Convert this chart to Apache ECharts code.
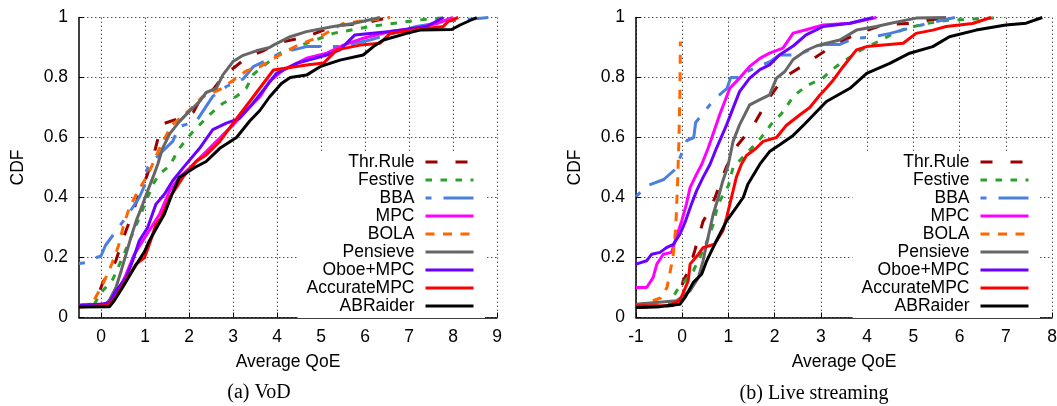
<!DOCTYPE html>
<html>
<head>
<meta charset="utf-8">
<title>CDF of average QoE</title>
<script src="https://cdn.jsdelivr.net/npm/echarts@6.0.0/dist/echarts.min.js"></script>
<style>
  html, body { margin: 0; padding: 0; background: #fff; }
  #chart { width: 1057px; height: 406px; }
</style>
</head>
<body>
<div id="chart"></div>
<script>
// legend order == drawing order (last one on top)
const schemes = ['Thr.Rule', 'Festive', 'BBA', 'MPC', 'BOLA', 'Pensieve', 'Oboe+MPC', 'AccurateMPC', 'ABRaider']

const vodTicks = [0, 1, 2, 3, 4, 5, 6, 7, 8, 9]
const liveTicks = [-1, 0, 1, 2, 3, 4, 5, 6, 7, 8]

// (a) VoD  -- [average QoE, CDF]
const vodThrRule = [[-0.5, 0.04], [-0.2, 0.045], [-0.1, 0.06], [0.0, 0.1], [0.05, 0.12], [0.2, 0.15], [0.34, 0.19], [0.45, 0.24], [0.57, 0.29], [0.7, 0.34], [0.8, 0.383], [0.92, 0.43], [1.03, 0.467], [1.18, 0.53], [1.3, 0.6], [1.4, 0.645], [1.9, 0.67], [2.1, 0.685], [2.3, 0.74], [2.55, 0.76], [2.86, 0.82], [3.0, 0.83], [3.3, 0.865], [3.7, 0.89], [3.99, 0.914], [4.67, 0.936], [5.1, 0.96], [5.51, 0.975], [5.96, 0.98], [6.53, 1.0]]
const vodFestive = [[-0.5, 0.04], [-0.15, 0.045], [-0.05, 0.07], [0.04, 0.089], [0.27, 0.128], [0.49, 0.2], [0.65, 0.256], [0.84, 0.322], [1.03, 0.389], [1.18, 0.444], [1.33, 0.478], [1.56, 0.506], [1.78, 0.564], [2.09, 0.62], [2.47, 0.676], [2.77, 0.714], [3.08, 0.737], [3.3, 0.764], [3.46, 0.81], [3.77, 0.847], [4.07, 0.881], [4.67, 0.914], [5.28, 0.947], [6.11, 0.97], [7.25, 0.992], [7.86, 1.0]]
const vodBBA = [[-0.5, 0.18], [-0.35, 0.183], [-0.1, 0.2], [0.0, 0.205], [0.1, 0.24], [0.25, 0.27], [0.4, 0.3], [0.6, 0.34], [0.87, 0.4], [0.99, 0.44], [1.06, 0.5], [1.3, 0.54], [1.63, 0.587], [1.78, 0.637], [2.16, 0.653], [2.54, 0.737], [2.85, 0.77], [3.23, 0.795], [3.46, 0.836], [3.77, 0.858], [4.07, 0.881], [4.37, 0.892], [4.67, 0.903], [5.43, 0.903], [6.11, 0.925], [7.17, 0.97], [7.86, 0.987], [8.8, 1.0]]
const vodMPC = [[-0.5, 0.04], [0.1, 0.045], [0.27, 0.056], [0.4, 0.09], [0.57, 0.144], [0.76, 0.211], [0.95, 0.256], [1.14, 0.3], [1.33, 0.344], [1.56, 0.422], [1.78, 0.467], [2.01, 0.498], [2.39, 0.553], [2.7, 0.598], [3.0, 0.642], [3.3, 0.69], [3.61, 0.735], [3.83, 0.787], [4.14, 0.825], [4.67, 0.864], [5.13, 0.881], [5.51, 0.908], [5.96, 0.931], [6.57, 0.953], [7.17, 0.964], [7.63, 0.98], [8.0, 1.0]]
const vodBOLA = [[-0.5, 0.04], [-0.25, 0.045], [-0.15, 0.06], [0.0, 0.1], [0.1, 0.13], [0.25, 0.18], [0.4, 0.24], [0.5, 0.3], [0.63, 0.36], [0.8, 0.41], [1.0, 0.46], [1.14, 0.5], [1.33, 0.564], [1.6, 0.64], [2.0, 0.69], [2.3, 0.735], [2.7, 0.76], [3.0, 0.79], [3.3, 0.822], [3.61, 0.836], [3.99, 0.869], [4.5, 0.91], [4.98, 0.936], [5.5, 0.98], [6.57, 1.0]]
const vodPensieve = [[-0.5, 0.04], [0.1, 0.042], [0.2, 0.06], [0.34, 0.1], [0.46, 0.156], [0.57, 0.211], [0.68, 0.267], [0.8, 0.322], [0.95, 0.378], [1.06, 0.422], [1.18, 0.467], [1.29, 0.511], [1.4, 0.564], [1.56, 0.612], [1.78, 0.653], [2.01, 0.688], [2.24, 0.72], [2.39, 0.75], [2.62, 0.764], [2.77, 0.809], [3.0, 0.853], [3.23, 0.874], [3.53, 0.889], [3.83, 0.9], [3.92, 0.908], [4.3, 0.936], [4.67, 0.953], [5.28, 0.97], [5.73, 0.98], [6.34, 1.0]]
const vodOboeMPC = [[-0.5, 0.04], [0.05, 0.045], [0.19, 0.05], [0.34, 0.089], [0.57, 0.133], [0.72, 0.189], [0.87, 0.256], [1.06, 0.3], [1.25, 0.378], [1.44, 0.411], [1.63, 0.456], [1.86, 0.498], [2.24, 0.564], [2.54, 0.626], [2.85, 0.648], [3.15, 0.664], [3.39, 0.703], [3.69, 0.758], [3.99, 0.814], [4.45, 0.847], [5.13, 0.875], [5.43, 0.892], [5.77, 0.942], [6.57, 0.953], [7.4, 0.97], [7.78, 1.0]]
const vodAccurateMPC = [[-0.5, 0.035], [0.15, 0.04], [0.34, 0.067], [0.42, 0.089], [0.65, 0.144], [0.8, 0.178], [0.99, 0.2], [1.1, 0.244], [1.25, 0.311], [1.37, 0.333], [1.56, 0.4], [1.71, 0.433], [1.86, 0.467], [2.05, 0.5], [2.16, 0.52], [2.39, 0.542], [2.7, 0.587], [2.92, 0.631], [3.15, 0.676], [3.38, 0.72], [3.61, 0.765], [3.92, 0.825], [4.67, 0.842], [5.06, 0.848], [5.36, 0.892], [5.89, 0.908], [6.34, 0.914], [6.57, 0.947], [7.1, 0.958], [7.78, 0.97], [7.89, 0.987], [8.12, 1.0]]
const vodABRaider = [[-0.5, 0.035], [0.19, 0.036], [0.3, 0.056], [0.49, 0.1], [0.76, 0.167], [0.99, 0.22], [1.1, 0.256], [1.29, 0.306], [1.44, 0.344], [1.6, 0.406], [1.78, 0.467], [2.13, 0.5], [2.39, 0.52], [2.7, 0.564], [3.08, 0.6], [3.38, 0.655], [3.61, 0.69], [3.83, 0.735], [4.1, 0.78], [4.3, 0.8], [4.67, 0.808], [4.98, 0.836], [5.43, 0.858], [5.96, 0.875], [6.19, 0.903], [6.42, 0.925], [6.95, 0.947], [7.25, 0.958], [7.97, 0.96], [8.16, 0.975], [8.54, 1.0]]

// (b) Live streaming
const liveThrRule = [[-1, 0.033], [-0.2, 0.04], [-0.05, 0.07], [0.02, 0.122], [0.15, 0.16], [0.27, 0.222], [0.45, 0.32], [0.6, 0.36], [0.71, 0.4], [0.85, 0.46], [0.96, 0.503], [1.2, 0.575], [1.54, 0.64], [1.87, 0.73], [2.2, 0.8], [2.72, 0.85], [3.2, 0.9], [3.8, 0.948], [4.4, 0.977], [4.9, 0.98], [5.7, 1.0]]
const liveFestive = [[-1, 0.039], [-0.3, 0.039], [-0.12, 0.089], [0.24, 0.155], [0.5, 0.24], [0.67, 0.31], [0.78, 0.38], [1.0, 0.44], [1.1, 0.5], [1.41, 0.55], [1.71, 0.6], [1.93, 0.645], [2.15, 0.68], [2.42, 0.74], [2.72, 0.775], [3.02, 0.795], [3.23, 0.825], [3.48, 0.853], [3.85, 0.89], [4.24, 0.92], [4.49, 0.94], [4.78, 0.96], [5.21, 0.978], [5.71, 0.99], [6.93, 1.0]]
const liveBBA = [[-1, 0.403], [-0.75, 0.44], [-0.4, 0.46], [-0.18, 0.49], [-0.04, 0.536], [0.1, 0.59], [0.25, 0.6], [0.29, 0.65], [0.5, 0.69], [0.68, 0.725], [0.97, 0.764], [1.05, 0.8], [1.3, 0.8], [1.4, 0.82], [1.9, 0.853], [2.1, 0.875], [2.48, 0.875], [3.05, 0.91], [3.41, 0.91], [3.7, 0.93], [4.15, 0.936], [4.5, 0.947], [5.3, 0.98], [5.9, 1.0]]
const liveMPC = [[-1, 0.1], [-0.77, 0.1], [-0.63, 0.133], [-0.55, 0.178], [-0.41, 0.211], [-0.23, 0.217], [-0.12, 0.272], [-0.01, 0.322], [0.09, 0.378], [0.17, 0.433], [0.31, 0.478], [0.42, 0.51], [0.56, 0.564], [0.71, 0.631], [0.81, 0.676], [0.92, 0.72], [1.03, 0.764], [1.24, 0.798], [1.46, 0.837], [1.68, 0.864], [1.89, 0.881], [2.18, 0.898], [2.4, 0.948], [2.68, 0.959], [3.05, 0.975], [3.63, 0.981], [4.2, 1.0]]
const liveBOLA = [[-1, 0.04], [-0.65, 0.055], [-0.47, 0.065], [-0.33, 0.1], [-0.2, 0.2], [-0.14, 0.3], [-0.1, 0.45], [-0.07, 0.6], [-0.05, 0.75], [-0.04, 0.92]]
const livePensieve = [[-1, 0.044], [-0.12, 0.056], [0.17, 0.089], [0.35, 0.133], [0.45, 0.189], [0.56, 0.267], [0.67, 0.344], [0.78, 0.4], [0.88, 0.456], [0.99, 0.505], [1.1, 0.587], [1.24, 0.642], [1.46, 0.709], [1.68, 0.726], [1.89, 0.742], [2.04, 0.798], [2.22, 0.82], [2.4, 0.86], [2.68, 0.89], [2.9, 0.905], [3.12, 0.914], [3.41, 0.925], [3.77, 0.958], [4.2, 0.97], [4.49, 0.98], [5.06, 0.998], [5.71, 1.0]]
const liveOboeMPC = [[-1, 0.178], [-0.77, 0.189], [-0.66, 0.211], [-0.48, 0.217], [-0.34, 0.233], [-0.19, 0.244], [-0.05, 0.278], [0.06, 0.317], [0.2, 0.378], [0.31, 0.422], [0.45, 0.467], [0.6, 0.51], [0.74, 0.564], [0.96, 0.642], [1.1, 0.698], [1.24, 0.753], [1.46, 0.798], [1.68, 0.826], [1.89, 0.842], [2.11, 0.876], [2.4, 0.905], [2.68, 0.942], [3.05, 0.97], [3.63, 0.981], [4.13, 1.0]]
const liveAccurateMPC = [[-1, 0.039], [-0.3, 0.04], [-0.05, 0.056], [0.13, 0.122], [0.17, 0.178], [0.35, 0.211], [0.45, 0.233], [0.7, 0.244], [0.88, 0.289], [0.96, 0.333], [1.03, 0.378], [1.1, 0.422], [1.17, 0.467], [1.28, 0.511], [1.39, 0.54], [1.6, 0.564], [1.75, 0.587], [2.04, 0.6], [2.25, 0.64], [2.54, 0.675], [2.76, 0.7], [2.97, 0.74], [3.12, 0.765], [3.27, 0.792], [3.48, 0.836], [3.77, 0.892], [3.99, 0.903], [4.78, 0.914], [5.06, 0.947], [5.42, 0.958], [5.71, 0.97], [6.28, 0.98], [6.68, 1.0]]
const liveABRaider = [[-1, 0.033], [-0.55, 0.035], [-0.05, 0.044], [0.06, 0.067], [0.24, 0.117], [0.42, 0.144], [0.53, 0.189], [0.74, 0.256], [0.96, 0.322], [1.17, 0.367], [1.32, 0.4], [1.42, 0.444], [1.68, 0.511], [1.89, 0.553], [2.11, 0.576], [2.4, 0.607], [2.65, 0.645], [2.9, 0.685], [3.12, 0.72], [3.63, 0.764], [3.99, 0.814], [4.49, 0.847], [4.92, 0.881], [5.42, 0.903], [5.78, 0.936], [6.36, 0.958], [7.0, 0.975], [7.44, 0.981], [7.79, 1.0]]

const vodData = [vodThrRule, vodFestive, vodBBA, vodMPC, vodBOLA, vodPensieve, vodOboeMPC, vodAccurateMPC, vodABRaider]
const liveData = [liveThrRule, liveFestive, liveBBA, liveMPC, liveBOLA, livePensieve, liveOboeMPC, liveAccurateMPC, liveABRaider]

// gnuplot-ish colours and dash patterns, same order as schemes
const colors = ['#9b0000', '#2ca02c', '#4a7fe0', '#ff00ff', '#ff6600', '#666666', '#6a00ff', '#ff0000', '#000000']
const dashes = [[12, 18], [6.5, 8.5], [6, 12, 30, 12], 'solid', [9, 8.5], 'solid', 'solid', 'solid', 'solid']

const font = '"Liberation Sans", Arial, sans-serif'
const textBase = { fontFamily: font, fontSize: 17.5, color: '#000' }
const gridLine = { show: true, lineStyle: { type: [1.5, 2.5], color: '#555', width: 1 } }

const makeXAxis = (gridIndex, min, max, ticks) => ({
  type: 'value',
  gridIndex,
  min,
  max,
  name: 'Average QoE',
  nameLocation: 'middle',
  nameGap: 36,
  nameTextStyle: textBase,
  axisLine: { onZero: false, lineStyle: { color: '#000', width: 1.5 } },
  axisTick: { inside: true, length: 5, customValues: ticks, lineStyle: { color: '#000' } },
  axisLabel: { ...textBase, margin: 11, customValues: ticks },
  splitLine: gridLine,
})

const makeYAxis = (gridIndex) => ({
  type: 'value',
  gridIndex,
  min: 0,
  max: 1,
  interval: 0.2,
  name: 'CDF',
  nameLocation: 'middle',
  nameGap: 52,
  nameTextStyle: textBase,
  axisLine: { show: true, onZero: false, lineStyle: { color: '#000', width: 1.5 } },
  axisTick: { show: true, inside: true, length: 5, lineStyle: { color: '#000' } },
  axisLabel: { ...textBase, margin: 11 },
  splitLine: gridLine,
})

const makeSeries = (list, axisIndex) =>
  list.map((points, i) => ({
    name: schemes[i],
    type: 'line',
    xAxisIndex: axisIndex,
    yAxisIndex: axisIndex,
    data: points,
    symbol: 'none',
    clip: true,
    lineStyle: { color: colors[i], width: 3, type: dashes[i] },
    itemStyle: { color: colors[i] },
    emphasis: { disabled: true },
  }))

const makeLegend = (right) => ({
  data: schemes,
  orient: 'vertical',
  right,
  top: 152,
  align: 'right',
  itemWidth: 48,
  itemHeight: 10,
  itemGap: 0,
  padding: [1, 10, 3, 9],
  backgroundColor: '#fff',
  selectedMode: false,
  textStyle: { ...textBase, lineHeight: 17.9, padding: [0, 6, 0, 0] },
  lineStyle: { width: 3 },
  itemStyle: { opacity: 0 },
})

const chart = echarts.init(document.getElementById('chart'), null, { renderer: 'canvas' })

chart.setOption({
  animation: false,
  backgroundColor: '#fff',
  grid: [
    { left: 79, right: 560, top: 17.5, bottom: 88.5, outerBoundsMode: 'none' },
    { left: 636, right: 5, top: 17.5, bottom: 88.5, outerBoundsMode: 'none' },
  ],
  xAxis: [makeXAxis(0, -0.5, 9, vodTicks), makeXAxis(1, -1, 8, liveTicks)],
  yAxis: [makeYAxis(0), makeYAxis(1)],
  legend: [makeLegend(572), makeLegend(17)],
  series: [...makeSeries(vodData, 0), ...makeSeries(liveData, 1)],
  graphic: [
    {
      type: 'text',
      x: 259,
      y: 393,
      style: { text: '(a) VoD', fontFamily: '"Liberation Serif", "Times New Roman", serif', fontSize: 20, fill: '#000', align: 'center', verticalAlign: 'middle' },
    },
    {
      type: 'text',
      x: 814,
      y: 394,
      style: { text: '(b) Live streaming', fontFamily: '"Liberation Serif", "Times New Roman", serif', fontSize: 20, fill: '#000', align: 'center', verticalAlign: 'middle' },
    },
  ],
})
</script>
</body>
</html>
